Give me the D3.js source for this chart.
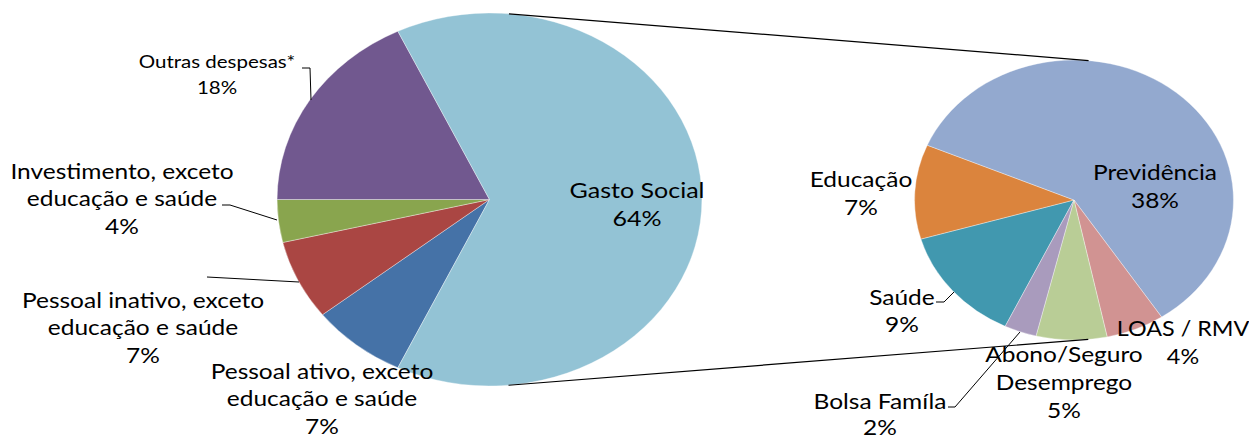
<!DOCTYPE html>
<html>
<head>
<meta charset="utf-8">
<script src="https://cdn.jsdelivr.net/npm/d3@7"></script>
<style>
  body { margin: 0; background: #fff; }
  text { font-family: Lato, "Noto Sans", sans-serif; fill: #000; }
</style>
</head>
<body>
<svg width="1249" height="438"></svg>
<script>
// data: main pie (share of total spending, %)
var mainNames = [
  ["Pessoal ativo, exceto", "educação e saúde"],
  ["Pessoal inativo, exceto", "educação e saúde"],
  ["Investimento, exceto", "educação e saúde"],
  ["Outras despesas*"]
];
var mainValues = [7.3, 6.9, 3.7, 17.9];
var mainColors = ["#4572A7", "#AA4643", "#89A54E", "#71588F"];

// data: breakdown of "Gasto Social" (% of total)
var socialNames = [["Saúde"], ["Educação"], ["Previdência"], ["LOAS / RMV"], ["Abono/Seguro", "Desemprego"], ["Bolsa Famíla"]];
var socialValues = [8.6, 7.0, 38.1, 3.8, 4.6, 2.1];
var socialColors = ["#4198AF", "#DB843D", "#93A9CF", "#D19392", "#B9CD96", "#A99BBD"];

var otherName = ["Gasto Social"];
var otherColor = "#93C3D5";

var svg = d3.select("svg"),
    SX = 1.139;   // the chart is stretched horizontally

var g = svg.append("g").attr("transform", "scale(" + SX + ",1)");

var gasto = d3.sum(socialValues);
var mainData = mainValues.map(function(v, i) { return {name: mainNames[i], value: v, color: mainColors[i]}; });
mainData.push({name: otherName, value: gasto, color: otherColor});
var socialData = socialValues.map(function(v, i) { return {name: socialNames[i], value: v, color: socialColors[i]}; });

var total = d3.sum(mainData, function(d) { return d.value; });
var a0 = Math.PI / 2 + Math.PI * gasto / total;

var pie = d3.pie().sort(null).value(function(d) { return d.value; })
  .startAngle(a0).endAngle(a0 + 2 * Math.PI);

var c1 = {x: 489.5 / SX, y: 199.5, r: 186.5},
    c2 = {x: 1074 / SX, y: 200, r: 140};

function drawPie(data, c) {
  var arc = d3.arc().innerRadius(0).outerRadius(c.r);
  g.append("g")
    .attr("transform", "translate(" + c.x + "," + c.y + ")")
    .selectAll("path")
    .data(pie(data))
    .join("path")
      .attr("d", arc)
      .attr("fill", function(d) { return d.data.color; })
      .attr("stroke", "#fff")
      .attr("stroke-opacity", 0.6)
      .attr("stroke-width", 0.6)
      .attr("vector-effect", "non-scaling-stroke");
}
drawPie(mainData, c1);
drawPie(socialData, c2);

// series lines: outer tangents of the two pies
var dx = c2.x - c1.x, dy = c2.y - c1.y, dd = Math.hypot(dx, dy);
var ux = dx / dd, uy = dy / dd, k = (c1.r - c2.r) / dd, h = Math.sqrt(1 - k * k);
[-1, 1].forEach(function(s) {
  var nx = k * ux + s * h * (-uy), ny = k * uy + s * h * ux;
  g.append("line")
    .attr("x1", c1.x + c1.r * nx).attr("y1", c1.y + c1.r * ny)
    .attr("x2", c2.x + c2.r * nx).attr("y2", c2.y + c2.r * ny)
    .attr("stroke", "#000").attr("stroke-width", 1.2)
    .attr("vector-effect", "non-scaling-stroke");
});

// label layout, screen coords (center x, middle y of first line)
var mainLayout = [
  {x: 322, y: 371, fs: 21.5, lh: 27.5},
  {x: 143, y: 300, fs: 21.5, lh: 27.5},
  {x: 122, y: 171, fs: 21.5, lh: 27.5},
  {x: 217, y: 62, fs: 18, lh: 26},
  {x: 637, y: 190, fs: 22, lh: 28}
];
var socialLayout = [
  {x: 902, y: 297, fs: 21.5, lh: 27.5},
  {x: 861, y: 179, fs: 21.5, lh: 28},
  {x: 1155, y: 172, fs: 21.5, lh: 28},
  {x: 1183, y: 329, fs: 20.5, lh: 28},
  {x: 1064, y: 354, fs: 21.5, lh: 28},
  {x: 880, y: 401, fs: 21.5, lh: 26}
];

function drawLabels(data, layout) {
  data.forEach(function(d, i) {
    var L = layout[i];
    var lines = d.name.concat([Math.round(d.value) + "%"]);
    var t = g.append("text")
      .attr("text-anchor", "middle")
      .attr("font-size", L.fs);
    lines.forEach(function(s, j) {
      t.append("tspan")
        .attr("x", L.x / SX)
        .attr("y", L.y + j * L.lh)
        .attr("dy", "0.35em")
        .text(s);
    });
  });
}
drawLabels(mainData, mainLayout);
drawLabels(socialData, socialLayout);

// leader lines (screen coords)
var leaders = [
  [[302, 68], [310, 68], [311, 100]],
  [[222, 205], [230, 205], [277, 220]],
  [[207, 277], [299, 282]],
  [[936, 302], [944, 302], [954, 292]],
  [[948, 407], [955, 407], [1020, 332]]
];
var line = d3.line().x(function(p) { return p[0] / SX; }).y(function(p) { return p[1]; });
g.selectAll("path.leader")
  .data(leaders)
  .join("path")
    .attr("class", "leader")
    .attr("d", line)
    .attr("fill", "none")
    .attr("stroke", "#000")
    .attr("stroke-width", 1)
    .attr("vector-effect", "non-scaling-stroke");
</script>
</body>
</html>
